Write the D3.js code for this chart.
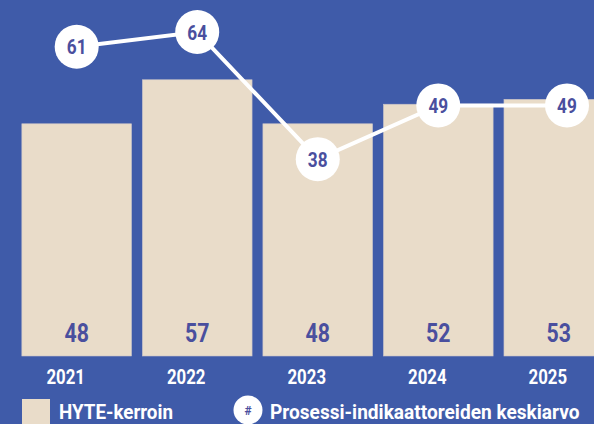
<!DOCTYPE html>
<html>
<head>
<meta charset="utf-8">
<script src="https://cdn.jsdelivr.net/npm/d3@7"></script>
<style>
  html, body { margin: 0; padding: 0; background: #3f5ba9; overflow: hidden; }
  svg { display: block; font-family: Roboto, "DejaVu Sans", sans-serif; font-weight: 700; }
</style>
</head>
<body>
<svg id="chart" width="594" height="424"></svg>
<script>
  const years = ['2021', '2022', '2023', '2024', '2025'];
  const hyteValues = [48, 57, 48, 52, 53];
  const processAvg = [61, 64, 38, 49, 49];
  const legendLabels = ['HYTE-kerroin', 'Prosessi-indikaattoreiden keskiarvo'];

  const width = 594;
  const height = 424;
  const bg = '#3f5ba9';
  const barColor = '#e9dcc9';
  const ink = '#4a4f9e';
  const squeeze = 0.82;
  const r = 22;

  const svg = d3.select('#chart');
  svg.append('rect').attr('width', width).attr('height', height).attr('fill', bg);

  const x = d3.scaleBand()
    .domain(years)
    .range([11, 624.5])
    .padding(0.09);

  const y = d3.scaleLinear()
    .domain([0, 100])
    .range([358.5, 358.5 - 489]);

  const lineShift = -13.5;
  const bottom = 356;

  // bars
  svg.selectAll('.bar')
    .data(years)
    .enter().append('rect')
    .attr('class', 'bar')
    .attr('x', d => x(d))
    .attr('y', (d, i) => y(hyteValues[i]))
    .attr('width', x.bandwidth())
    .attr('height', (d, i) => bottom - y(hyteValues[i]))
    .attr('fill', barColor)
    .attr('stroke', '#c9c3c8')
    .attr('stroke-width', 0.6);

  // values inside bars
  svg.selectAll('.bar-val')
    .data(years)
    .enter().append('text')
    .attr('class', 'bar-val')
    .attr('transform', d => `translate(${x(d) + x.bandwidth() / 2},341.5) scale(${squeeze},1)`)
    .attr('text-anchor', 'middle')
    .attr('font-size', 26)
    .attr('fill', ink)
    .text((d, i) => hyteValues[i]);

  // year labels (sit a little left of the bar centre)
  svg.selectAll('.year')
    .data(years)
    .enter().append('text')
    .attr('class', 'year')
    .attr('transform', d => `translate(${x(d) + x.bandwidth() / 2 - 11},383.5) scale(0.8,1)`)
    .attr('text-anchor', 'middle')
    .attr('font-size', 21)
    .attr('fill', '#fff')
    .text(d => d);

  // line with circles (last one nudged to sit at the right edge)
  const cx = (d, i) => i === years.length - 1 ? width - r - 5 : x(d) + x.bandwidth() / 2;
  const pts = years.map((d, i) => [cx(d, i), y(processAvg[i]) + lineShift]);

  svg.append('path')
    .attr('d', d3.line()(pts))
    .attr('fill', 'none')
    .attr('stroke', '#fff')
    .attr('stroke-width', 4);

  const dot = svg.selectAll('.dot')
    .data(pts)
    .enter().append('g')
    .attr('class', 'dot')
    .attr('transform', d => `translate(${d[0]},${d[1]})`);

  dot.append('circle')
    .attr('r', r)
    .attr('fill', '#fff');

  dot.append('text')
    .attr('transform', `translate(0,7.5) scale(${squeeze},1)`)
    .attr('text-anchor', 'middle')
    .attr('font-size', 21)
    .attr('fill', ink)
    .text((d, i) => processAvg[i]);

  // legend
  const legend = svg.append('g');
  legend.append('rect')
    .attr('x', 22).attr('y', 399)
    .attr('width', 28).attr('height', 30)
    .attr('fill', barColor);
  legend.append('text')
    .attr('transform', 'translate(59,419) scale(0.94,1)')
    .attr('font-size', 20)
    .attr('fill', '#fff')
    .text(legendLabels[0]);

  legend.append('circle')
    .attr('cx', 248).attr('cy', 410).attr('r', 14.5)
    .attr('fill', '#fff');
  legend.append('text')
    .attr('x', 248).attr('y', 414.5)
    .attr('text-anchor', 'middle')
    .attr('font-size', 12)
    .attr('fill', ink)
    .text('#');
  legend.append('text')
    .attr('transform', 'translate(270,419) scale(0.955,1)')
    .attr('font-size', 20)
    .attr('fill', '#fff')
    .text(legendLabels[1]);
</script>
</body>
</html>
